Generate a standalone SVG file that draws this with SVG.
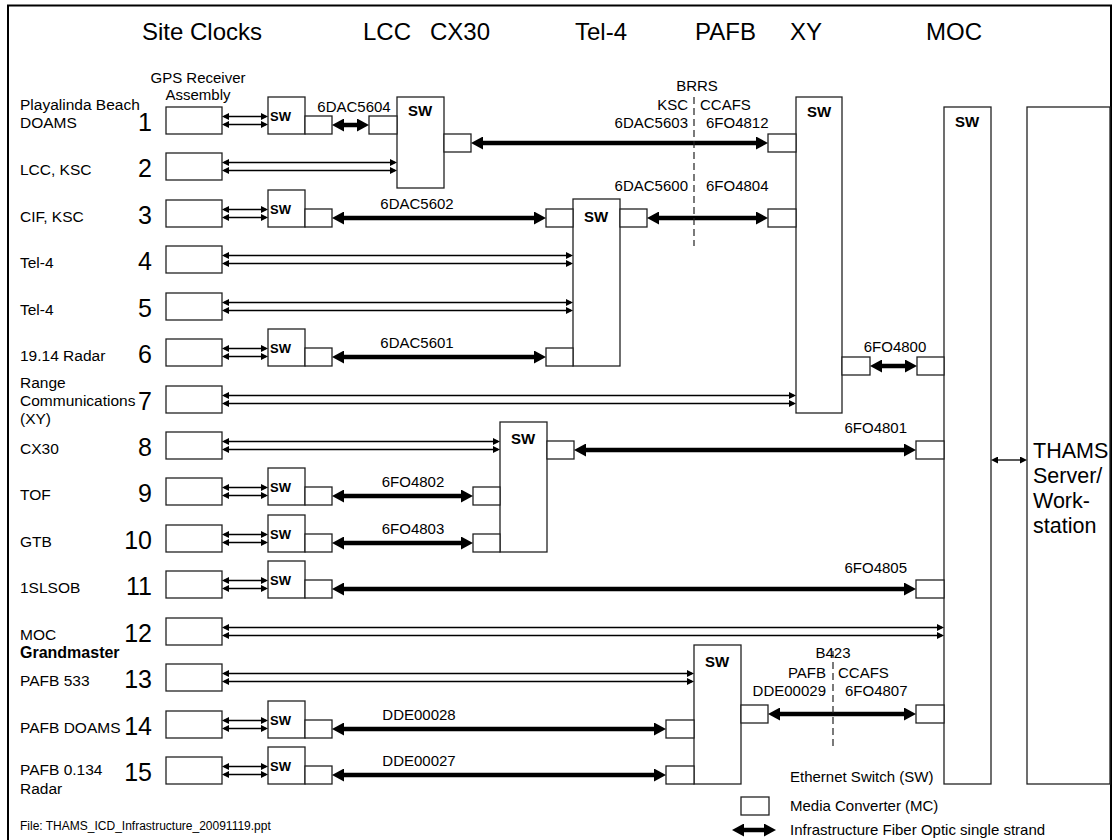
<svg xmlns="http://www.w3.org/2000/svg" width="1113" height="840" viewBox="0 0 1113 840">
<style>
text{font-family:"Liberation Sans",Arial,sans-serif;fill:#000}
.hd{font-size:24px}
.lb{font-size:15.5px}
.num{font-size:25px;text-anchor:end}
.cab{font-size:15px}
.sw{font-size:13px;font-weight:bold}
.bsw{font-size:15px;font-weight:bold}
.box{fill:#fff;stroke:#222;stroke-width:1.3}
.thin{stroke:#000;stroke-width:1.3;fill:none;marker-start:url(#ta);marker-end:url(#ta)}
.thick{stroke:#000;stroke-width:4.5;fill:none;marker-start:url(#ka);marker-end:url(#ka)}
.dash{stroke:#222;stroke-width:1.2;stroke-dasharray:7,4;fill:none}
</style>
<defs>
<marker id="ta" viewBox="0 0 7 7" refX="5" refY="3.5" markerWidth="7" markerHeight="7" markerUnits="userSpaceOnUse" orient="auto-start-reverse"><path d="M0,0 L7,3.5 L0,7 z" fill="#000"/></marker>
<marker id="ka" viewBox="0 0 12 13" refX="6" refY="6.5" markerWidth="12" markerHeight="13" markerUnits="userSpaceOnUse" orient="auto-start-reverse"><path d="M0,0 L12,6.5 L0,13 z" fill="#000"/></marker>
</defs>
<rect x="0" y="0" width="1113" height="840" fill="#fff"/>
<rect x="8" y="5.5" width="1103" height="840" fill="none" stroke="#000" stroke-width="2"/>

<g id="headers">
<text class="hd" x="142" y="40">Site Clocks</text>
<text class="hd" x="363" y="40">LCC</text>
<text class="hd" x="430" y="40">CX30</text>
<text class="hd" x="575" y="40">Tel-4</text>
<text class="hd" x="695" y="40">PAFB</text>
<text class="hd" x="790" y="40">XY</text>
<text class="hd" x="926" y="40">MOC</text>
<text class="cab" x="198" y="83" text-anchor="middle">GPS Receiver</text>
<text class="cab" x="198" y="100" text-anchor="middle">Assembly</text>
</g>

<g id="site-labels">
<text class="lb" x="20" y="110">Playalinda Beach</text>
<text class="lb" x="20" y="128">DOAMS</text>
<text class="lb" x="20" y="174.5">LCC, KSC</text>
<text class="lb" x="20" y="221.5">CIF, KSC</text>
<text class="lb" x="20" y="267.5">Tel-4</text>
<text class="lb" x="20" y="314.5">Tel-4</text>
<text class="lb" x="20" y="360.5">19.14 Radar</text>
<text class="lb" x="20" y="388">Range</text>
<text class="lb" x="20" y="406">Communications</text>
<text class="lb" x="20" y="424">(XY)</text>
<text class="lb" x="20" y="453.5">CX30</text>
<text class="lb" x="20" y="499.5">TOF</text>
<text class="lb" x="20" y="546.5">GTB</text>
<text class="lb" x="20" y="592.5">1SLSOB</text>
<text class="lb" x="20" y="639.5">MOC</text>
<text x="20" y="658" style="font-size:16px;font-weight:bold">Grandmaster</text>
<text class="lb" x="20" y="685.5">PAFB 533</text>
<text class="lb" x="20" y="732.5">PAFB DOAMS</text>
<text class="lb" x="20" y="775">PAFB 0.134</text>
<text class="lb" x="20" y="794">Radar</text>
<text class="num" x="152" y="130.5">1</text>
<text class="num" x="152" y="176.5">2</text>
<text class="num" x="152" y="223.5">3</text>
<text class="num" x="152" y="269.5">4</text>
<text class="num" x="152" y="316.5">5</text>
<text class="num" x="152" y="362.5">6</text>
<text class="num" x="152" y="409.5">7</text>
<text class="num" x="152" y="455.5">8</text>
<text class="num" x="152" y="501.5">9</text>
<text class="num" x="152" y="548.5">10</text>
<text class="num" x="152" y="594.5">11</text>
<text class="num" x="152" y="641.5">12</text>
<text class="num" x="152" y="687.5">13</text>
<text class="num" x="152" y="734.5">14</text>
<text class="num" x="152" y="780.5">15</text>
</g>

<g id="site-clocks">
<rect class="box" x="166" y="107" width="56" height="27"/>
<rect class="box" x="166" y="153" width="56" height="27"/>
<rect class="box" x="166" y="200" width="56" height="27"/>
<rect class="box" x="166" y="246" width="56" height="27"/>
<rect class="box" x="166" y="293" width="56" height="27"/>
<rect class="box" x="166" y="339" width="56" height="27"/>
<rect class="box" x="166" y="386" width="56" height="27"/>
<rect class="box" x="166" y="432" width="56" height="27"/>
<rect class="box" x="166" y="478" width="56" height="27"/>
<rect class="box" x="166" y="525" width="56" height="27"/>
<rect class="box" x="166" y="571" width="56" height="27"/>
<rect class="box" x="166" y="618" width="56" height="27"/>
<rect class="box" x="166" y="664" width="56" height="27"/>
<rect class="box" x="166" y="711" width="56" height="27"/>
<rect class="box" x="166" y="757" width="56" height="27"/>
</g>

<g id="site-switches">
<g id="sw1"><rect class="box" x="268" y="97" width="37" height="37"/><text class="sw" x="270" y="121">SW</text><rect class="box" x="305" y="116" width="27" height="18"/></g>
<g id="sw3"><rect class="box" x="268" y="190" width="37" height="37"/><text class="sw" x="270" y="214">SW</text><rect class="box" x="305" y="209" width="27" height="18"/></g>
<g id="sw6"><rect class="box" x="268" y="329" width="37" height="37"/><text class="sw" x="270" y="353">SW</text><rect class="box" x="305" y="348" width="27" height="18"/></g>
<g id="sw9"><rect class="box" x="268" y="468" width="37" height="37"/><text class="sw" x="270" y="492">SW</text><rect class="box" x="305" y="487" width="27" height="18"/></g>
<g id="sw10"><rect class="box" x="268" y="515" width="37" height="37"/><text class="sw" x="270" y="539">SW</text><rect class="box" x="305" y="534" width="27" height="18"/></g>
<g id="sw11"><rect class="box" x="268" y="561" width="37" height="37"/><text class="sw" x="270" y="585">SW</text><rect class="box" x="305" y="580" width="27" height="18"/></g>
<g id="sw14"><rect class="box" x="268" y="701" width="37" height="37"/><text class="sw" x="270" y="725">SW</text><rect class="box" x="305" y="720" width="27" height="18"/></g>
<g id="sw15"><rect class="box" x="268" y="747" width="37" height="37"/><text class="sw" x="270" y="771">SW</text><rect class="box" x="305" y="766" width="27" height="18"/></g>
</g>

<g id="lcc-sw">
<rect class="box" x="397" y="97" width="47" height="91"/>
<text class="bsw" x="408" y="116">SW</text>
<rect class="box" x="369" y="116" width="28" height="18"/>
<rect class="box" x="444" y="134" width="27" height="18"/>
</g>

<g id="tel4-sw">
<rect class="box" x="573" y="199" width="47" height="167"/>
<text class="bsw" x="584" y="222">SW</text>
<rect class="box" x="546" y="209" width="27" height="18"/>
<rect class="box" x="546" y="348" width="27" height="18"/>
<rect class="box" x="620" y="209" width="27" height="18"/>
</g>

<g id="xy-sw">
<rect class="box" x="796" y="97" width="46" height="316"/>
<text class="bsw" x="807" y="117">SW</text>
<rect class="box" x="768" y="134" width="28" height="18"/>
<rect class="box" x="768" y="209" width="28" height="18"/>
<rect class="box" x="842" y="357" width="28" height="18"/>
</g>

<g id="cx30-sw">
<rect class="box" x="500" y="422" width="47" height="130"/>
<text class="bsw" x="511" y="444">SW</text>
<rect class="box" x="547" y="441" width="27" height="18"/>
<rect class="box" x="473" y="487" width="27" height="18"/>
<rect class="box" x="473" y="534" width="27" height="18"/>
</g>

<g id="pafb-sw">
<rect class="box" x="694" y="645" width="47" height="139"/>
<text class="bsw" x="705" y="667">SW</text>
<rect class="box" x="741" y="705" width="27" height="18"/>
<rect class="box" x="666" y="720" width="28" height="18"/>
<rect class="box" x="666" y="766" width="28" height="18"/>
</g>

<g id="moc-sw">
<rect class="box" x="944" y="107" width="47" height="677"/>
<text class="bsw" x="955" y="127">SW</text>
<rect class="box" x="917" y="357" width="27" height="18"/>
<rect class="box" x="916" y="441" width="28" height="18"/>
<rect class="box" x="916" y="580" width="28" height="18"/>
<rect class="box" x="916" y="705" width="28" height="18"/>
</g>

<g id="thams">
<rect class="box" x="1027" y="107" width="83" height="677"/>
<text x="1033" y="458" style="font-size:21.5px">THAMS</text>
<text x="1033" y="483" style="font-size:21.5px">Server/</text>
<text x="1033" y="508" style="font-size:21.5px">Work-</text>
<text x="1033" y="533" style="font-size:21.5px">station</text>
</g>

<g id="connectors">
<line class="thin" x1="224" y1="116.5" x2="266" y2="116.5"/><line class="thin" x1="224" y1="124.5" x2="266" y2="124.5"/>
<line class="thin" x1="224" y1="162.5" x2="395" y2="162.5"/><line class="thin" x1="224" y1="170.5" x2="395" y2="170.5"/>
<line class="thin" x1="224" y1="209.5" x2="266" y2="209.5"/><line class="thin" x1="224" y1="217.5" x2="266" y2="217.5"/>
<line class="thin" x1="224" y1="255.5" x2="571" y2="255.5"/><line class="thin" x1="224" y1="263.5" x2="571" y2="263.5"/>
<line class="thin" x1="224" y1="302.5" x2="571" y2="302.5"/><line class="thin" x1="224" y1="310.5" x2="571" y2="310.5"/>
<line class="thin" x1="224" y1="348.5" x2="266" y2="348.5"/><line class="thin" x1="224" y1="356.5" x2="266" y2="356.5"/>
<line class="thin" x1="224" y1="395.5" x2="794" y2="395.5"/><line class="thin" x1="224" y1="403.5" x2="794" y2="403.5"/>
<line class="thin" x1="224" y1="441.5" x2="498" y2="441.5"/><line class="thin" x1="224" y1="449.5" x2="498" y2="449.5"/>
<line class="thin" x1="224" y1="487.5" x2="266" y2="487.5"/><line class="thin" x1="224" y1="495.5" x2="266" y2="495.5"/>
<line class="thin" x1="224" y1="534.5" x2="266" y2="534.5"/><line class="thin" x1="224" y1="542.5" x2="266" y2="542.5"/>
<line class="thin" x1="224" y1="580.5" x2="266" y2="580.5"/><line class="thin" x1="224" y1="588.5" x2="266" y2="588.5"/>
<line class="thin" x1="224" y1="627.5" x2="942" y2="627.5"/><line class="thin" x1="224" y1="635.5" x2="942" y2="635.5"/>
<line class="thin" x1="224" y1="673.5" x2="692" y2="673.5"/><line class="thin" x1="224" y1="681.5" x2="692" y2="681.5"/>
<line class="thin" x1="224" y1="720.5" x2="266" y2="720.5"/><line class="thin" x1="224" y1="728.5" x2="266" y2="728.5"/>
<line class="thin" x1="224" y1="766.5" x2="266" y2="766.5"/><line class="thin" x1="224" y1="774.5" x2="266" y2="774.5"/>
<line class="thin" x1="993" y1="460" x2="1025" y2="460"/>

<line class="thick" x1="338" y1="125" x2="363" y2="125"/>
<line class="thick" x1="477" y1="143" x2="762" y2="143"/>
<line class="thick" x1="338" y1="218" x2="540" y2="218"/>
<line class="thick" x1="653" y1="218" x2="762" y2="218"/>
<line class="thick" x1="338" y1="357" x2="540" y2="357"/>
<line class="thick" x1="876" y1="366" x2="911" y2="366"/>
<line class="thick" x1="580" y1="450" x2="910" y2="450"/>
<line class="thick" x1="338" y1="496" x2="467" y2="496"/>
<line class="thick" x1="338" y1="543" x2="467" y2="543"/>
<line class="thick" x1="338" y1="589" x2="910" y2="589"/>
<line class="thick" x1="774" y1="714" x2="910" y2="714"/>
<line class="thick" x1="338" y1="729" x2="660" y2="729"/>
<line class="thick" x1="338" y1="775" x2="660" y2="775"/>

<line class="dash" x1="694" y1="97" x2="694" y2="246"/>
<line class="dash" x1="833" y1="651" x2="833" y2="748"/>
</g>

<g id="cable-labels">
<text class="cab" x="354" y="112" text-anchor="middle">6DAC5604</text>
<text class="cab" x="697" y="91" text-anchor="middle">BRRS</text>
<text class="cab" x="688" y="110" text-anchor="end">KSC</text>
<text class="cab" x="700" y="110">CCAFS</text>
<text class="cab" x="688" y="128" text-anchor="end">6DAC5603</text>
<text class="cab" x="706" y="128">6FO4812</text>
<text class="cab" x="688" y="191" text-anchor="end">6DAC5600</text>
<text class="cab" x="706" y="191">6FO4804</text>
<text class="cab" x="417" y="209" text-anchor="middle">6DAC5602</text>
<text class="cab" x="417" y="348" text-anchor="middle">6DAC5601</text>
<text class="cab" x="895" y="352" text-anchor="middle">6FO4800</text>
<text class="cab" x="907" y="433" text-anchor="end">6FO4801</text>
<text class="cab" x="413" y="487" text-anchor="middle">6FO4802</text>
<text class="cab" x="413" y="534" text-anchor="middle">6FO4803</text>
<text class="cab" x="907" y="573" text-anchor="end">6FO4805</text>
<text class="cab" x="833" y="658" text-anchor="middle">B423</text>
<text class="cab" x="826" y="678" text-anchor="end">PAFB</text>
<text class="cab" x="838" y="678">CCAFS</text>
<text class="cab" x="826" y="696" text-anchor="end">DDE00029</text>
<text class="cab" x="845" y="696">6FO4807</text>
<text class="cab" x="419" y="720" text-anchor="middle">DDE00028</text>
<text class="cab" x="419" y="766" text-anchor="middle">DDE00027</text>
</g>

<g id="legend">
<text class="cab" x="790" y="782">Ethernet Switch (SW)</text>
<rect class="box" x="741" y="797" width="28" height="18"/>
<text class="cab" x="790" y="811">Media Converter (MC)</text>
<line class="thick" x1="738" y1="830" x2="770" y2="830"/>
<text class="cab" x="790" y="835">Infrastructure Fiber Optic single strand</text>
</g>

<text x="20" y="830" style="font-size:12px">File: THAMS_ICD_Infrastructure_20091119.ppt</text>
</svg>
